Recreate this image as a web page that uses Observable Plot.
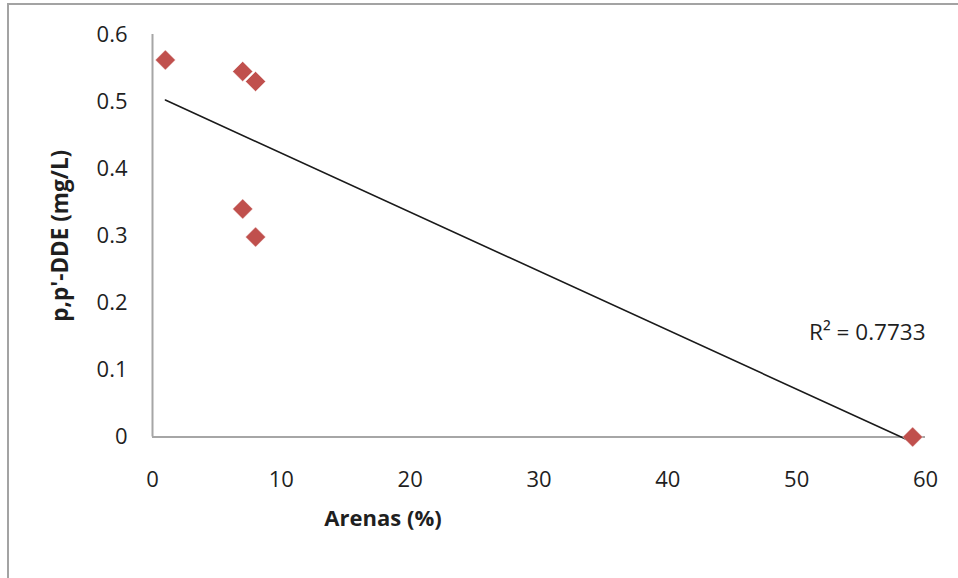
<!DOCTYPE html>
<html><head><meta charset="utf-8">
<script src="https://cdn.jsdelivr.net/npm/d3@7"></script>
<script src="https://cdn.jsdelivr.net/npm/@observablehq/plot@0.6"></script>
<style>
body{margin:0;background:#fff;}
#wrap{position:relative;width:958px;height:578px;overflow:hidden;background:#fff;}
#frame{position:absolute;left:7px;top:3px;width:2000px;height:2000px;border-left:2px solid #a3a3a3;border-top:2px solid #a3a3a3;}
#chart{position:absolute;left:0;top:0;}
</style></head><body>
<div id="wrap"><div id="frame"></div><div id="chart"></div></div>
<script>
// Data
const arenas = [1, 7, 8, 7, 8, 59];
const dde = [0.562, 0.545, 0.530, 0.340, 0.298, 0.000];
const xTicks = [0, 10, 20, 30, 40, 50, 60];
const yTicks = [0, 0.1, 0.2, 0.3, 0.4, 0.5, 0.6];
const xTitle = "Arenas (%)";
const yTitle = "p,p'-DDE (mg/L)";
const r2Label = "R² = 0.7733";

const data = arenas.map((a, i) => ({arenas: a, dde: dde[i]}));
const font = "'Open Sans', sans-serif";

const chart = Plot.plot({
  width: 958,
  height: 578,
  marginLeft: 152,
  marginRight: 33,
  marginTop: 34,
  marginBottom: 141.5,
  style: {fontFamily: font, fontSize: "22px", color: "#1f1f1f", background: "transparent"},
  x: {domain: [0, 60], ticks: xTicks, tickSize: 0, tickPadding: 34, label: null},
  y: {domain: [0, 0.6], ticks: yTicks, tickSize: 0, tickPadding: 25, label: null,
      tickFormat: d => String(d)},
  marks: [
    Plot.ruleX([0], {stroke: "#a6a6a6", strokeWidth: 2}),
    Plot.ruleY([0], {stroke: "#a6a6a6", strokeWidth: 2}),
    Plot.linearRegressionY(data, {x: "arenas", y: "dde", ci: 0, stroke: "#1a1a1a", strokeWidth: 1.6}),
    Plot.dot(data, {x: "arenas", y: "dde", symbol: "diamond2", r: 9, fill: "#c0504d", stroke: "#ffffff", strokeOpacity: 0.5, strokeWidth: 0.8}),
    Plot.text([r2Label], {frameAnchor: "top-right", textAnchor: "end", lineAnchor: "middle", dy: 298, fontSize: 22.5, fill: "#1f1f1f"}),
    Plot.text([xTitle], {frameAnchor: "bottom", textAnchor: "middle", lineAnchor: "middle", dx: -156, dy: 81.5, fontSize: 22, fontWeight: "bold", fill: "#1f1f1f"}),
    Plot.text([yTitle], {frameAnchor: "left", textAnchor: "middle", lineAnchor: "middle", rotate: -90, dx: -92, fontSize: 22.5, fontWeight: "bold", fill: "#1f1f1f"})
  ]
});
document.getElementById("chart").appendChild(chart);
</script>
</body></html>
